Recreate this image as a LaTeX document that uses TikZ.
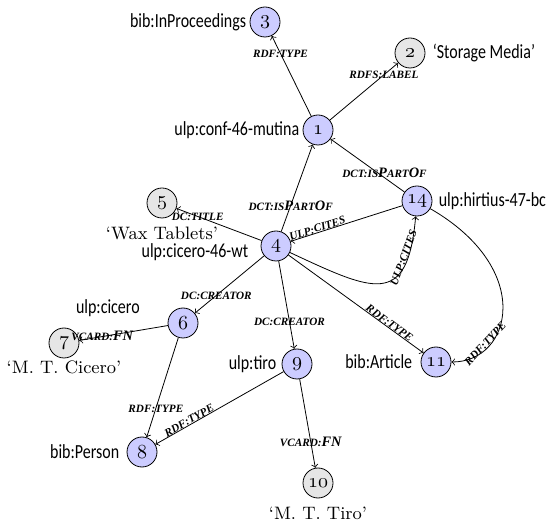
\documentclass[tikz,border=0pt]{standalone}
\usepackage{fontspec}
\setsansfont{Carlito}[FakeStretch=0.8]
\newfontfamily\propfont{Liberation Serif}
\usetikzlibrary{positioning}

\newcommand{\sm}[1]{{\fontsize{5.6}{6}\selectfont\MakeUppercase{#1}}}
\definecolor{resblue}{RGB}{204,204,255}
\definecolor{litgray}{RGB}{230,230,230}

\begin{document}
\begin{tikzpicture}[x=0.5pt,y=-0.5pt]
  \tikzstyle{every node}+=[inner sep=0pt]
  \tikzstyle{res}=[draw=black,circle,fill=resblue,minimum size=15pt]
  \tikzstyle{lit}=[draw=black,circle,fill=litgray,minimum size=15pt]
  \tikzstyle{uri}=[font=\sffamily\fontsize{10}{12}\selectfont]
  \tikzstyle{str}=[font=\fontsize{9}{11}\selectfont]
  \tikzstyle{prop}=[font=\propfont\bfseries\itshape\fontsize{7.2}{8}\selectfont]
  \useasboundingbox (0,0) rectangle (546,523);

  \node [res] (n1) at (318,130) {$\mathnormal{1}$};
  \node [lit] (n2) at (410,53) {$\mathnormal{2}$};
  \node [res] (n3) at (265,22) {$\mathnormal{3}$};
  \node [res] (n4) at (276,246) {$\mathnormal{4}$};
  \node [lit] (n5) at (162,203) {$\mathnormal{5}$};
  \node [res] (n6) at (183,323) {$\mathnormal{6}$};
  \node [lit] (n7) at (64,343) {$\mathnormal{7}$};
  \node [res] (n8) at (142,452) {$\mathnormal{8}$};
  \node [res] (n9) at (297,364) {$\mathnormal{9}$};
  \node [lit] (n10) at (318,483) {$\mathnormal{10}$};
  \node [res] (n11) at (436,362) {$\mathnormal{11}$};
  \node [res] (n14) at (417,201) {$\mathnormal{14}$};

  \node [uri,left=1.5pt of n3] (t3) {bib:InProceedings};
  \node [uri,right=3.5pt of n2] (t2) {‘Storage Media’};
  \node [uri,left=1.5pt of n1] (t1) {ulp:conf-46-mutina};
  \node [uri,right=3pt of n14] (t14) {ulp:hirtius-47-bc};
  \node [str,below=4pt of n5] (t5) {‘Wax Tablets’};
  \node [uri,left=6pt of n4,yshift=-3pt] (t4) {ulp:cicero-46-wt};
  \node [uri,left=16pt of n6.north west,yshift=2pt] (t6) {ulp:cicero};
  \node [str,below=1pt of n7] (t7) {‘M. T. Cicero’};
  \node [uri,left=2.5pt of n9] (t9) {ulp:tiro};
  \node [uri,left=4pt of n11] (t11) {bib:Article};
  \node [uri,left=3.5pt of n8] (t8) {bib:Person};
  \node [str,below=4pt of n10] (t10) {‘M. T. Tiro’};

  \draw [->] (n1) -- node [prop,pos=0.78] {\sm{rdf:type}} (n3);
  \draw [->] (n1) -- node [prop,pos=0.79] {\sm{rdfs:label}} (n2);
  \draw [->] (n4) -- node [prop,pos=0.3] {\sm{dct:is}P\sm{art}O\sm{f}} (n1);
  \draw [->] (n14) -- node [prop,pos=0.27,above] {\sm{dct:is}P\sm{art}O\sm{f}} (n1);
  \draw [->] (n4) -- node [prop,pos=0.75] {\sm{dc:title}} (n5);
  \draw [->] (n14) -- node [prop,pos=0.75,sloped,above] {\sm{ulp:cites}} (n4);
  \draw [->] (n4) to [out=-25,in=-95,looseness=1.8] node [prop,pos=0.8,sloped,above] {\sm{ulp:cites}} (n14);
  \draw [->] (n4) -- node [prop,pos=0.73,sloped,above] {\sm{rdf:type}} (n11);
  \draw [->] (n14) to [out=-30,in=0,out looseness=2,in looseness=1] node [prop,pos=0.75,sloped,above] {\sm{rdf:type}} (n11);
  \draw [->] (n4) -- node [prop,pos=0.69] {\sm{dc:creator}} (n6);
  \draw [->] (n4) -- node [prop,pos=0.69] {\sm{dc:creator}} (n9);
  \draw [->] (n6) -- node [prop,pos=0.74,above=-2pt] {\sm{vcard:}FN} (n7);
  \draw [->] (n6) -- node [prop,pos=0.71] {\sm{rdf:type}} (n8);
  \draw [->] (n9) -- node [prop,pos=0.72,sloped,above] {\sm{rdf:type}} (n8);
  \draw [->] (n9) -- node [prop,pos=0.71] {\sm{vcard:}FN} (n10);
\end{tikzpicture}
\end{document}
